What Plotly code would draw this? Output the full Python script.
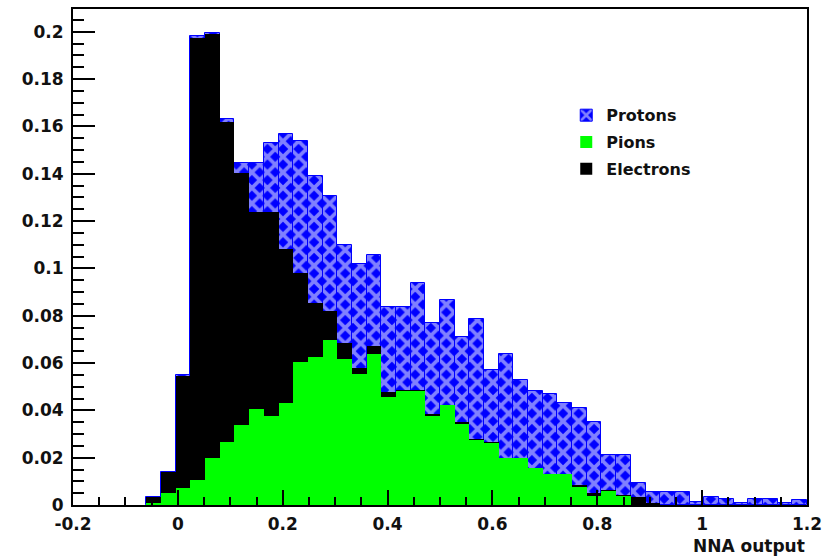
import numpy as np
import plotly.graph_objects as go

# 50 bins of width 0.028 covering the NNA output range
bin_edges = np.linspace(-0.2, 1.2, 51)
bin_centers = 0.5 * (bin_edges[:-1] + bin_edges[1:])
bin_width = bin_edges[1] - bin_edges[0]

# Stack heights per bin (each species normalised to unit area;
# pions at the bottom, electrons on top of them, protons on top of both)
pions_top = [0, 0, 0, 0, 0,
             0.001, 0.005, 0.007, 0.0105, 0.020,
             0.0267, 0.0337, 0.0407, 0.0375, 0.0431,
             0.0603, 0.0627, 0.0698, 0.0618, 0.0552,
             0.0639, 0.0456, 0.0481, 0.0481, 0.0375,
             0.0421, 0.0341, 0.0274, 0.026, 0.0197,
             0.0197, 0.0155, 0.0133, 0.0133, 0.0075,
             0.004, 0.006, 0.004, 0, 0,
             0, 0, 0, 0, 0,
             0, 0, 0, 0, 0]

electrons_top = [0, 0, 0, 0, 0,
                 0.0035, 0.014, 0.0547, 0.1975, 0.1992,
                 0.162, 0.1403, 0.124, 0.124, 0.108,
                 0.098, 0.0855, 0.082, 0.0683, 0.0578,
                 0.0671, 0.0477, 0.0487, 0.0487, 0.0386,
                 0.0421, 0.0351, 0.0281, 0.0267, 0.0197,
                 0.0197, 0.0155, 0.0133, 0.0133, 0.0084,
                 0.005, 0.0065, 0.0042, 0.0035, 0.001,
                 0, 0, 0, 0, 0,
                 0, 0, 0, 0, 0]

protons_top = [0, 0, 0, 0, 0,
               0.0035, 0.014, 0.055, 0.1982, 0.1995,
               0.1632, 0.1446, 0.1446, 0.153, 0.1566,
               0.154, 0.139, 0.1305, 0.110, 0.1018,
               0.1055, 0.0835, 0.0835, 0.0938, 0.0768,
               0.0867, 0.0709, 0.0786, 0.057, 0.0638,
               0.053, 0.048, 0.047, 0.043, 0.041,
               0.035, 0.021, 0.021, 0.0094, 0.0056,
               0.0056, 0.0056, 0.0014, 0.0035, 0.0024,
               0.0007, 0.0024, 0.0024, 0.0007, 0.0021]

x_tick_vals = [-0.2, 0, 0.2, 0.4, 0.6, 0.8, 1.0, 1.2]
x_tick_text = ["-0.2", "0", "0.2", "0.4", "0.6", "0.8", "1", "1.2"]
y_tick_vals = [0, 0.02, 0.04, 0.06, 0.08, 0.1, 0.12, 0.14, 0.16, 0.18, 0.2]
y_tick_text = ["0", "0.02", "0.04", "0.06", "0.08", "0.1", "0.12", "0.14",
               "0.16", "0.18", "0.2"]

FONT = "DejaVu Sans, Liberation Sans, Arial, sans-serif"
BLUE = "#0000ff"
GREEN = "#00ff00"


def nonzero(values):
    # empty bins get no bar (and so no outline along the axis)
    return [v if v > 0 else None for v in values]


fig = go.Figure()

fig.add_trace(go.Bar(
    x=bin_centers, y=nonzero(protons_top), width=bin_width,
    name="Protons", legendgroup="p", legendrank=1,
    marker=dict(color=BLUE, line=dict(color=BLUE, width=1),
                pattern=dict(shape="x", fgcolor="white", size=11, solidity=0.55)),
))
fig.add_trace(go.Bar(
    x=bin_centers, y=nonzero(electrons_top), width=bin_width,
    name="Electrons", legendgroup="e", legendrank=3,
    marker=dict(color="black", line=dict(width=0)),
))
fig.add_trace(go.Bar(
    x=bin_centers, y=nonzero(pions_top), width=bin_width,
    name="Pions", legendgroup="pi", legendrank=2,
    marker=dict(color=GREEN, line=dict(width=0)),
))

axis_common = dict(
    showgrid=False, zeroline=False,
    showline=True, linecolor="black", linewidth=2, mirror=True,
    ticks="inside", tickcolor="black", tickwidth=1.5,
    tickfont=dict(family=FONT, size=17, color="#111111", weight="bold"),
)

fig.update_xaxes(
    range=[-0.2, 1.2], tickmode="array",
    tickvals=x_tick_vals, ticktext=x_tick_text, ticklen=15,
    ticklabelstandoff=3,
    minor=dict(tickmode="linear", tick0=0, dtick=0.05, ticks="inside",
               ticklen=8, tickcolor="black", tickwidth=1.5),
    **axis_common,
)
fig.update_yaxes(
    range=[0, 0.2096], tickmode="array",
    tickvals=y_tick_vals, ticktext=y_tick_text, ticklen=22,
    ticklabelstandoff=4,
    minor=dict(tickmode="linear", tick0=0, dtick=0.005, ticks="inside",
               ticklen=11, tickcolor="black", tickwidth=1.5),
    **axis_common,
)

fig.add_annotation(
    text="NNA output", xref="paper", yref="paper", x=1.0, y=-0.058,
    xanchor="right", yanchor="top", showarrow=False,
    font=dict(family=FONT, size=17, color="#111111", weight="bold"),
)

fig.update_layout(
    width=829, height=559,
    margin=dict(l=73, r=21, t=7, b=54),
    paper_bgcolor="white", plot_bgcolor="white",
    barmode="overlay", bargap=0,
    legend=dict(x=0.672, y=0.82, xanchor="left", yanchor="top",
                bgcolor="rgba(0,0,0,0)", borderwidth=0, tracegroupgap=3,
                font=dict(family=FONT, size=16, color="#111111", weight="bold")),
)

fig.write_html("out.html")
